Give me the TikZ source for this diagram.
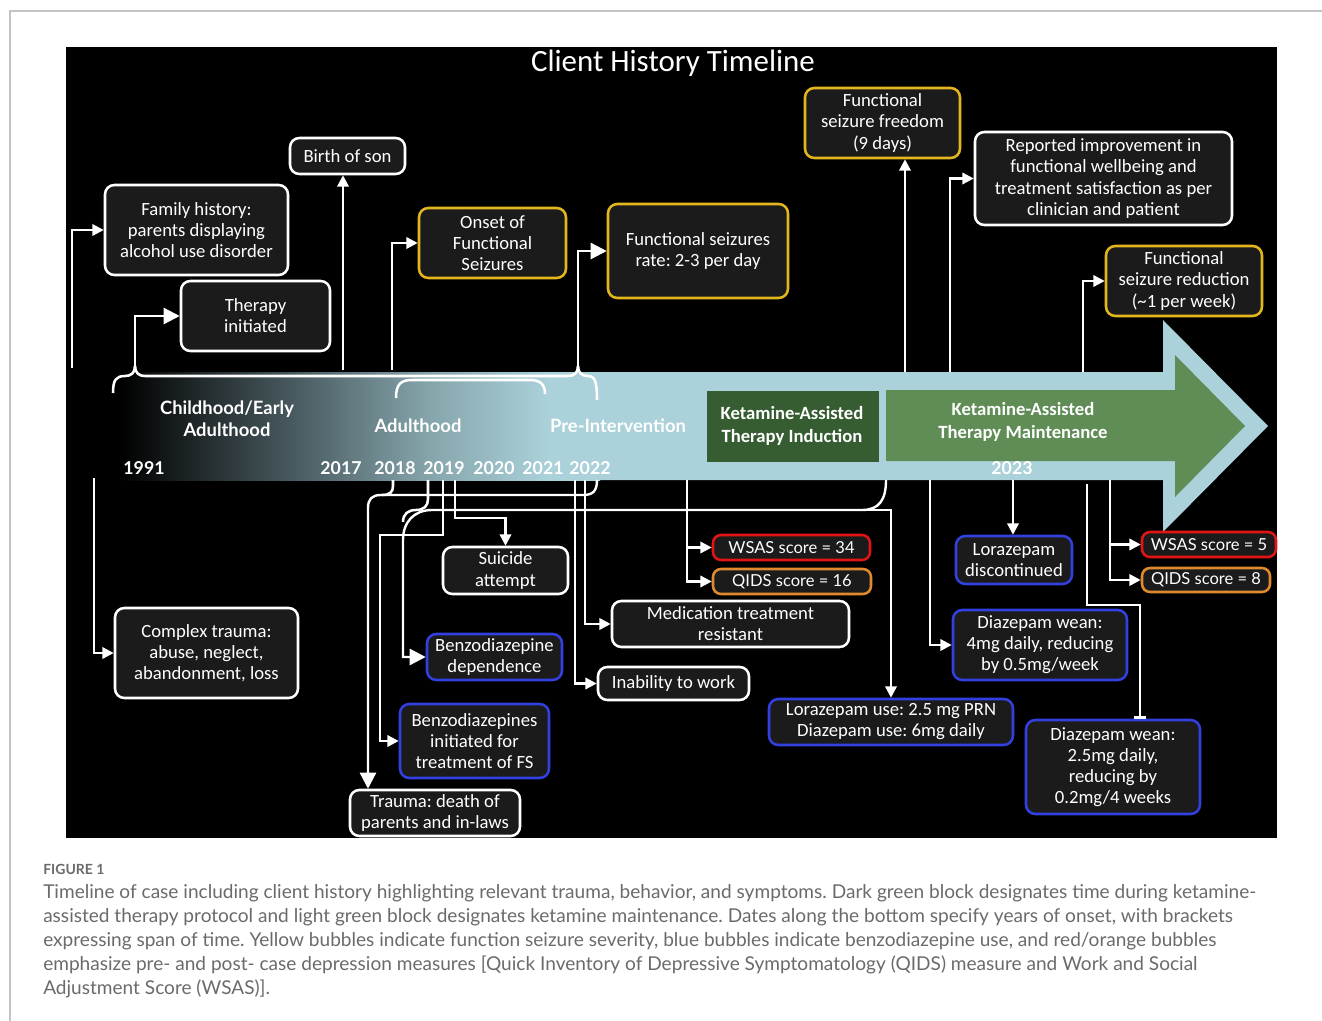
\documentclass[tikz,border=0pt]{standalone}
\usepackage{fontspec}
\setmainfont{Carlito}
\newfontfamily\latofont{Lato}
\usetikzlibrary{arrows.meta, calc}
\frenchspacing
\definecolor{panel}{HTML}{000000}
\definecolor{boxfill}{HTML}{1B1B1B}
\definecolor{fsyellow}{HTML}{E3B61E}
\definecolor{bzblue}{HTML}{3340E0}
\definecolor{scred}{HTML}{E31414}
\definecolor{scorange}{HTML}{E0892E}
\definecolor{bandblue}{HTML}{ABD1DA}
\definecolor{bandmid}{HTML}{566B71}
\definecolor{bandlite}{HTML}{84A4AA}
\definecolor{katdark}{HTML}{365D32}
\definecolor{katlight}{HTML}{5F8D55}
\definecolor{framegray}{HTML}{C4C4C4}
\definecolor{captxt}{HTML}{6B6B6B}
\pgfdeclarehorizontalshading{bandfade}{100bp}{color(0bp)=(black); color(28bp)=(black); color(48bp)=(bandmid); color(58bp)=(bandlite); color(70bp)=(bandblue); color(100bp)=(bandblue)}

\tikzset{
  sz/.style 2 args={minimum width=#1*0.75pt, minimum height=#2*0.75pt},
  evt/.style={draw=#1, line width=1.9pt, rounded corners=7pt, fill=boxfill,
              text=white, align=center, inner sep=2pt,
              font=\fontsize{14}{15.8}\selectfont},
  evt/.default=white,
  score/.style={evt=#1, rounded corners=6pt, font=\latofont\fontsize{12.4}{14}\selectfont},
  link/.style={white, line width=1.8pt, -{Triangle[length=8.5pt,width=8.5pt]}},
  biglink/.style={link, -{Triangle[length=12pt,width=12pt]}},
  brace/.style={white, line width=1.9pt},
  band/.style={text=white, font=\latofont\bfseries\fontsize{13.8}{16.5}\selectfont, align=center},
  yr/.style={text=white, font=\latofont\bfseries\fontsize{13.3}{15}\selectfont},
  kat/.style={text=white, font=\bfseries\fontsize{14}{17}\selectfont, align=center},
  capline/.style={anchor=base west, inner sep=0pt, text=captxt, font=\latofont\fontsize{14.3}{18}\selectfont}
}

\begin{document}
\begin{tikzpicture}[x=0.75pt, y=-0.75pt]
  \useasboundingbox (0,0) rectangle (1322,1021);
  \fill[white] (0,0) rectangle (1322,1021);
  \draw[framegray, line width=0.8pt] (10,1021) -- (10,11) -- (1322,11);
  \fill[panel] (66,47) rectangle (1277,838);

  % timeline band
  \fill[bandblue] (97,372) -- (1163,372) -- (1163,320) -- (1268,426) -- (1163,532) -- (1163,480) -- (97,480) -- cycle;
  \shade[shading=bandfade] (90,372) rectangle (600,480);
  \fill[katlight] (886,390) -- (1175,390) -- (1175,355) -- (1245,426) -- (1175,497) -- (1175,461) -- (886,461) -- cycle;
  \fill[katdark] (707,391) rectangle (879,462);

  \node[text=white, font=\fontsize{23.2}{26}\selectfont] (title) at (673,63) {Client History Timeline};

  \node[band] (lchild) at (227,419) {Childhood/Early\\Adulthood};
  \node[band] (ladult) at (418,426) {Adulthood};
  \node[band] (lpre) at (618,426) {Pre-Intervention};
  \node[kat] (lind) at (792,426) {Ketamine-Assisted\\Therapy Induction};
  \node[kat] (lmain) at (1023,422) {Ketamine-Assisted\\Therapy Maintenance};
  \foreach \yx/\yt in {144/1991, 341/2017, 395/2018, 444/2019, 494/2020, 543/2021, 590/2022, 1012/2023}
    \node[yr] (y\yt) at (\yx,468) {\yt};

  % events above the band
  \node[evt, sz={183}{90}] (fam) at (196.5,230) {Family history:\\parents displaying\\alcohol use disorder};
  \node[evt, sz={149}{70}] (ther) at (255.5,316) {Therapy\\initiated};
  \node[evt, sz={115}{36}] (birth) at (347.5,156) {Birth of son};
  \node[evt=fsyellow, sz={147}{70}] (onset) at (492.5,243) {Onset of\\Functional\\Seizures};
  \node[evt=fsyellow, sz={180}{94}] (rate) at (698,251) {Functional seizures\\rate: 2-3 per day};
  \node[evt=fsyellow, sz={155}{70}] (free) at (882.5,123) {Functional\\seizure freedom\\(9 days)};
  \node[evt, sz={257}{93}] (impr) at (1103.5,178.5) {Reported improvement in\\functional wellbeing and\\treatment satisfaction as per\\clinician and patient};
  \node[evt=fsyellow, sz={156}{70}] (red) at (1184,281) {Functional\\seizure reduction\\(\textasciitilde1 per week)};

  % events below the band
  \node[evt, sz={183}{90}] (ctr) at (206.5,653) {Complex trauma:\\abuse, neglect,\\abandonment, loss};
  \node[evt, sz={125}{47}] (sui) at (505.5,570.5) {Suicide\\attempt};
  \node[evt=bzblue, sz={135}{46}] (bzdep) at (494.5,657) {Benzodiazepine\\dependence};
  \node[evt=bzblue, sz={149}{74}] (bzi) at (474.5,741) {Benzodiazepines\\initiated for\\treatment of FS};
  \node[evt, sz={170}{46}] (dtr) at (435,813) {Trauma: death of\\parents and in-laws};
  \node[evt, sz={237}{46}] (med) at (730.5,624) {Medication treatment\\resistant};
  \node[evt, sz={151}{33}] (inab) at (673.5,683.5) {Inability to work};
  \node[score=scred, sz={157}{25}] (ws34) at (791.5,547.5) {WSAS score = 34};
  \node[score=scorange, sz={158}{25}] (qd16) at (792,581.5) {QIDS score = 16};
  \node[evt=bzblue, sz={244}{46}] (lzu) at (891,722) {Lorazepam use: 2.5 mg PRN\\Diazepam use: 6mg daily};
  \node[evt=bzblue, sz={116}{48}] (lzd) at (1014,560) {Lorazepam\\discontinued};
  \node[evt=bzblue, sz={174}{70}] (dz1) at (1040,645) {Diazepam wean:\\4mg daily, reducing\\by 0.5mg/week};
  \node[score=scred, sz={134}{25}] (ws5) at (1209,544.5) {WSAS score = 5};
  \node[score=scorange, sz={128}{24}] (qd8) at (1206,580) {QIDS score = 8};
  \node[evt=bzblue, sz={174}{94}] (dz2) at (1113,767) {Diazepam wean:\\2.5mg daily,\\reducing by\\0.2mg/4 weeks};

  % brackets
  \draw[brace] (113,393) .. controls (113,380) and (116,376) .. (125,376) .. controls (131,376) and (135,373) .. (135,366);
  \draw[brace] (135,366) .. controls (135,373) and (139,376) .. (145,376) -- (568,376) .. controls (574,376) and (578,373) .. (578,366);
  \draw[brace] (578,366) .. controls (578,373) and (582,376) .. (588,376) .. controls (595,376) and (597,382) .. (597,400);
  \draw[brace] (396,398) .. controls (396,384) and (401,380) .. (412,380) -- (530,380) .. controls (540,380) and (545,384) .. (545,394);

  % connectors above
  \coordinate (cFam) at (72,368);
  \coordinate (cTher) at (135,366);
  \coordinate (cBirth) at (343,370);
  \coordinate (cOnset) at (392,370);
  \coordinate (cRate) at (578,366);
  \coordinate (cFree) at (905,372);
  \coordinate (cImpr) at (950,372);
  \coordinate (cRed) at (1083,372);
  \draw[link] (cFam) |- (fam.west);
  \draw[biglink] (cTher) |- (ther.west);
  \draw[link] (cBirth) -- (cBirth |- birth.south);
  \draw[link] (cOnset) |- (onset.west);
  \draw[biglink] (cRate) |- (rate.west);
  \draw[link] (cFree) -- (cFree |- free.south);
  \draw[link] (cImpr) |- (impr.west);
  \draw[link] (cRed) |- (red.west);

  % connectors below
  \coordinate (cCtr) at (94,478);
  \coordinate (cTr) at (368,508);
  \coordinate (cLz) at (862,510);
  \coordinate (cBi) at (443,480);
  \coordinate (cBi2) at (380,535);
  \coordinate (cSui) at (455,480);
  \coordinate (cMed) at (585,480);
  \coordinate (cInab) at (575,480);
  \coordinate (cKat) at (687,480);
  \coordinate (cDz1) at (930,480);
  \coordinate (cLzd) at (1013,480);
  \coordinate (cDz2) at (1087,484);
  \coordinate (cDz2b) at (1140,605);
  \coordinate (cPost) at (1110,480);
  \draw[link] (cCtr) |- (ctr.west);
  \draw[biglink] (597,480) .. controls (597,491) and (593,495) .. (583,495) -- (381,495) .. controls (372,495) and (368,499) .. (cTr) -- (cTr |- dtr.north);
  \draw[brace] (393,480) -- (393,486) .. controls (393,492) and (390,495) .. (382,495);
  \draw[brace] (428,480) -- (428,499) .. controls (428,506) and (424,510) .. (416,510) .. controls (408,510) and (403,514) .. (403,522);
  \draw[biglink] (886,480) .. controls (886,500) and (879,510) .. (cLz) -- (432,510) .. controls (414,510) and (403,522) .. (403,540) |- (bzdep.west);
  \draw[link] (cLz) -| (lzu.north);
  \draw[link] (cBi) |- (cBi2) |- (bzi.west);
  \draw[link] (cSui) -- ++(0,38) -| (sui.north);
  \draw[link] (cMed) |- (med.west);
  \draw[link] (cInab) |- (inab.west);
  \draw[link] (cKat) |- (ws34.west);
  \draw[link] (cKat) |- (qd16.west);
  \draw[link] (cDz1) |- (dz1.west);
  \draw[link] (cLzd) -- (cLzd |- lzd.north);
  \draw[white, line width=1.8pt, -{Bar[width=9pt]}] (cDz2) |- (cDz2b) -- (cDz2b |- dz2.north);
  \draw[link] (cPost) |- (ws5.west);
  \draw[link] (cPost) |- (qd8.west);

  % caption
  \node[capline, font=\latofont\bfseries\fontsize{10.5}{12}\selectfont] (fig) at (43,874) {FIGURE 1};
  \node[capline] (cap1) at (43,898) {Timeline of case including client history highlighting relevant trauma, behavior, and symptoms. Dark green block designates time during ketamine-};
  \node[capline] (cap2) at (43,922) {assisted therapy protocol and light green block designates ketamine maintenance. Dates along the bottom specify years of onset, with brackets};
  \node[capline] (cap3) at (43,946) {expressing span of time. Yellow bubbles indicate function seizure severity, blue bubbles indicate benzodiazepine use, and red/orange bubbles};
  \node[capline] (cap4) at (43,970) {emphasize pre- and post- case depression measures [Quick Inventory of Depressive Symptomatology (QIDS) measure and Work and Social};
  \node[capline] (cap5) at (43,994) {Adjustment Score (WSAS)].};
\end{tikzpicture}
\end{document}
